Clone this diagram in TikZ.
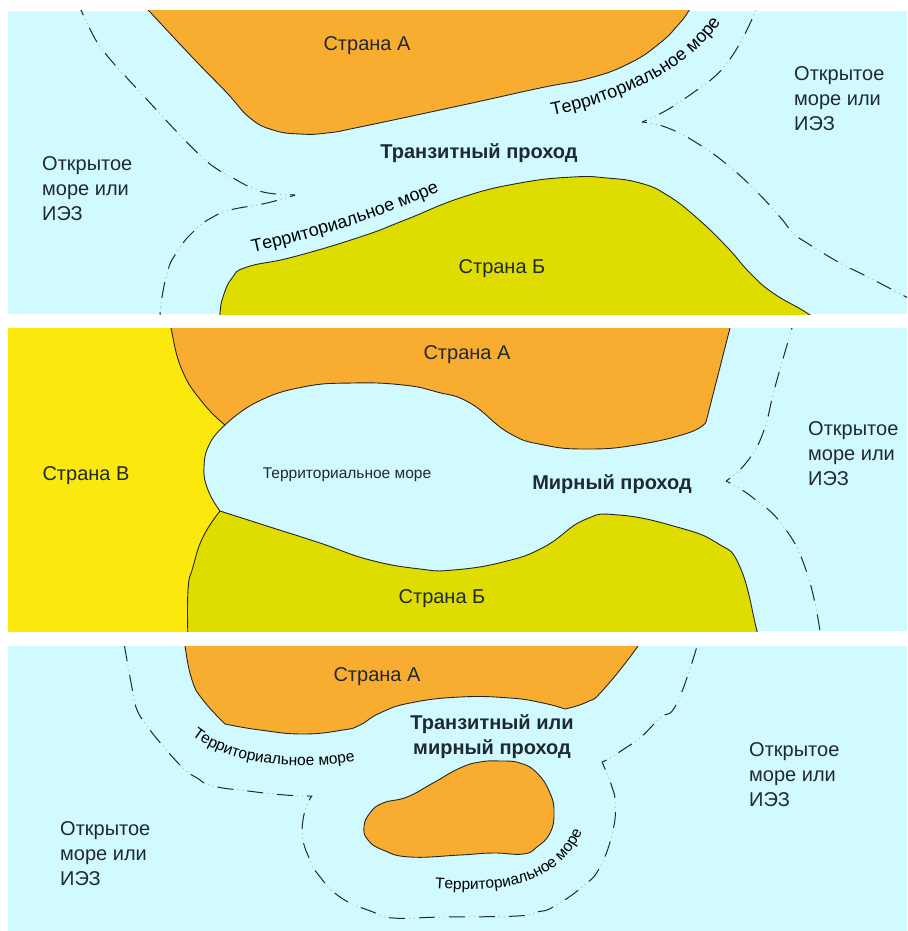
\documentclass[tikz,border=0pt]{standalone}
\usepackage{fontspec}
\setmainfont{Liberation Sans}
\usetikzlibrary{decorations.text}
\definecolor{seacol}{HTML}{D0FAFF}
\definecolor{orangecol}{HTML}{F9AD30}
\definecolor{olivecol}{HTML}{DFDC00}
\definecolor{yellowcol}{HTML}{FBE80D}
\definecolor{inkcol}{HTML}{1F2A30}
\definecolor{dotcol}{HTML}{A5BFC6}
\begin{document}
\begin{tikzpicture}[x=1pt, y=-1pt,
	every node/.style={align=left, inner sep=0pt, text=inkcol},
	country/.style={font=\fontsize{20}{25}\selectfont},
	opensea/.style={anchor=north west, font=\fontsize{20}{25}\selectfont},
	passage/.style={align=center, font=\fontsize{20}{25}\selectfont\bfseries},
	land/.style={draw=black!85, line width=0.9pt, line join=round},
	limit/.style={draw=inkcol, line width=1pt, dash pattern=on 16pt off 14pt, dash phase=11pt,
		preaction={draw=dotcol, line width=0.9pt, dash pattern=on 0pt off 20pt on 1.2pt off 3.6pt on 1.2pt off 4pt}},
	coast/.style={smooth, tension=0.8},
	terr/.style={decorate, decoration={text along path, text align=center,
		text={|\fontsize{#1}{#1}\selectfont|Территориальное море}}}]
	\useasboundingbox (0, 0) rectangle (907, 931);

	\begin{scope}
		\clip (8, 11) rectangle (907, 314);
		\fill [seacol] (8, 11) rectangle (907, 314);
		\draw [land, fill=orangecol] plot[coast] coordinates {(136, -3) (150, 12) (193, 58) (227, 93) (250, 118) (273, 130) (300, 134) (327, 133) (360, 127) (463, 105) (540, 88) (590, 78) (630, 63) (660, 43) (678, 25) (688, 12) (696, -3)} -- cycle;
		\draw [land, fill=olivecol] plot[coast] coordinates {(219, 330) (220, 313) (223, 297) (232, 278) (247, 267) (293, 257) (360, 237) (405, 220) (463, 197) (520, 183) (573, 177) (607, 178) (640, 183) (667, 195) (697, 218) (727, 247) (750, 273) (773, 293) (807, 313) (830, 330)} -- cycle;
		\coordinate (tipl) at (295, 195);
		\coordinate (tipr) at (642, 122);
		\draw [limit] plot[coast] coordinates {(tipl) (268, 193) (250, 187) (233, 178) (217, 169) (202, 157) (177, 132) (152, 105) (127, 78) (115, 65) (102, 49) (93, 35) (80, 8)};
		\draw [limit] plot[coast] coordinates {(tipl) (267, 203) (230, 210) (213, 217) (198, 227) (187, 238) (175, 255) (168, 270) (162, 297) (160, 316)};
		\draw [limit] plot[coast] coordinates {(tipr) (667, 110) (697, 90) (713, 78) (727, 63) (740, 43) (753, 17) (756, 8)};
		\draw [limit] plot[coast] coordinates {(tipr) (668, 128) (700, 145) (730, 167) (757, 192) (780, 217) (793, 233) (807, 243) (840, 263) (868, 277) (910, 299)};
		\node [country] (a1) at (367, 46) {Страна А};
		\node [country] (b1) at (502, 269) {Страна Б};
		\node [passage] (trans1) at (479, 153) {Транзитный проход};
		\node [opensea] (openl1) at (42, 156) {Открытое\\море или\\ИЭЗ};
		\node [opensea] (openr1) at (794, 66) {Открытое\\море или\\ИЭЗ};
		\path [terr=18] (250, 253) .. controls (310, 240) and (380, 218) .. (442, 190);
		\path [terr=18] (550, 116) .. controls (615, 103) and (690, 70) .. (722, 20);
	\end{scope}

	\begin{scope}
		\clip (8, 328) rectangle (907, 631);
		\fill [seacol] (8, 328) rectangle (907, 631);
		\draw [land, fill=yellowcol] (0, 320) -- (171, 320) -- (225, 425) -- plot[coast] coordinates {(225, 425) (210, 443) (204, 467) (208, 490) (220, 511)} -- (188, 640) -- (0, 640) -- cycle;
		\draw [land, fill=orangecol] plot[coast] coordinates {(170, 318) (171, 328) (182, 370) (203, 403) (225, 425)} -- plot[coast] coordinates {(225, 425) (257, 402) (303, 387) (353, 383) (403, 385) (437, 392) (470, 403) (509, 433) (544, 445) (587, 449) (636, 445) (688, 433) (706, 422)} -- (730, 328) -- (732, 318) -- cycle;
		\draw [land, fill=olivecol] plot[coast] coordinates {(188, 640) (188, 590) (193, 567) (203, 537) (220, 511)} -- plot[coast] coordinates {(220, 511) (270, 527) (320, 543) (370, 560) (420, 569) (453, 570) (503, 562) (544, 547) (584, 520) (619, 515) (677, 527) (717, 543) (740, 567) (757, 631) (760, 640)} -- cycle;
		\coordinate (tipm) at (726, 481);
		\draw [limit] plot[coast] coordinates {(tipm) (746, 463) (763, 433) (775, 387) (792, 328)};
		\draw [limit] plot[coast] coordinates {(tipm) (752, 497) (784, 527) (807, 573) (820, 631)};
		\node [country] (a2) at (467, 355) {Страна А};
		\node [country] (c2) at (86, 476) {Страна В};
		\node [country] (b2) at (442, 599) {Страна Б};
		\node [font=\fontsize{15.5}{15.5}\selectfont] (terr2) at (347, 475) {Территориальное море};
		\node [passage] (peace2) at (612, 484) {Мирный проход};
		\node [opensea] (open2) at (808, 421) {Открытое\\море или\\ИЭЗ};
	\end{scope}

	\begin{scope}
		\clip (8, 646) rectangle (907, 931);
		\fill [seacol] (8, 646) rectangle (907, 931);
		\draw [land, fill=orangecol] plot[coast] coordinates {(184, 630) (185, 646) (192, 680) (203, 700) (225, 724)} -- plot[coast] coordinates {(225, 724) (260, 730) (303, 734) (343, 730) (360, 725) (380, 713) (410, 703) (460, 697) (510, 698) (543, 703) (565, 709)} -- plot[coast] coordinates {(565, 709) (587, 702) (603, 690) (638, 646) (645, 630)} -- cycle;
		\draw [land, fill=orangecol] plot[smooth cycle, tension=0.8] coordinates {(500, 761) (520, 763) (537, 773) (550, 793) (554, 813) (550, 833) (537, 847) (523, 854) (493, 853) (460, 855) (410, 857) (383, 850) (368, 840) (364, 827) (370, 813) (383, 803) (407, 797) (433, 783) (460, 768) (480, 762)};
		\coordinate (tipw) at (312, 796);
		\coordinate (tipe) at (602, 762);
		\draw [limit] plot[coast] coordinates {(tipw) (285, 795) (248, 791) (213, 786) (197, 778) (182, 767) (158, 740) (148, 727) (138, 712) (133, 693) (124, 643)};
		\draw [limit] plot[coast] coordinates {(tipw) (308, 803) (303, 820) (303, 840) (310, 860) (317, 873) (340, 897) (373, 912) (393, 918) (443, 917) (517, 916) (537, 912) (553, 907) (582, 887) (600, 867) (613, 830) (615, 803) (612, 787) (tipe)};
		\draw [limit] plot[coast] coordinates {(tipe) (610, 758) (627, 747) (640, 738) (660, 718) (677, 703) (698, 643)};
		\node [country] (a3) at (377, 677) {Страна А};
		\node [passage] (mixed3) at (492, 737) {Транзитный или\\мирный проход};
		\node [opensea] (openr3) at (749, 742) {Открытое\\море или\\ИЭЗ};
		\node [opensea] (openl3) at (60, 821) {Открытое\\море или\\ИЭЗ};
		\path [terr=15.5] (192, 735) .. controls (225, 762) and (290, 772) .. (355, 761);
		\path [terr=15.5] (433, 888) .. controls (490, 892) and (555, 892) .. (583, 830);
	\end{scope}
\end{tikzpicture}
\end{document}
